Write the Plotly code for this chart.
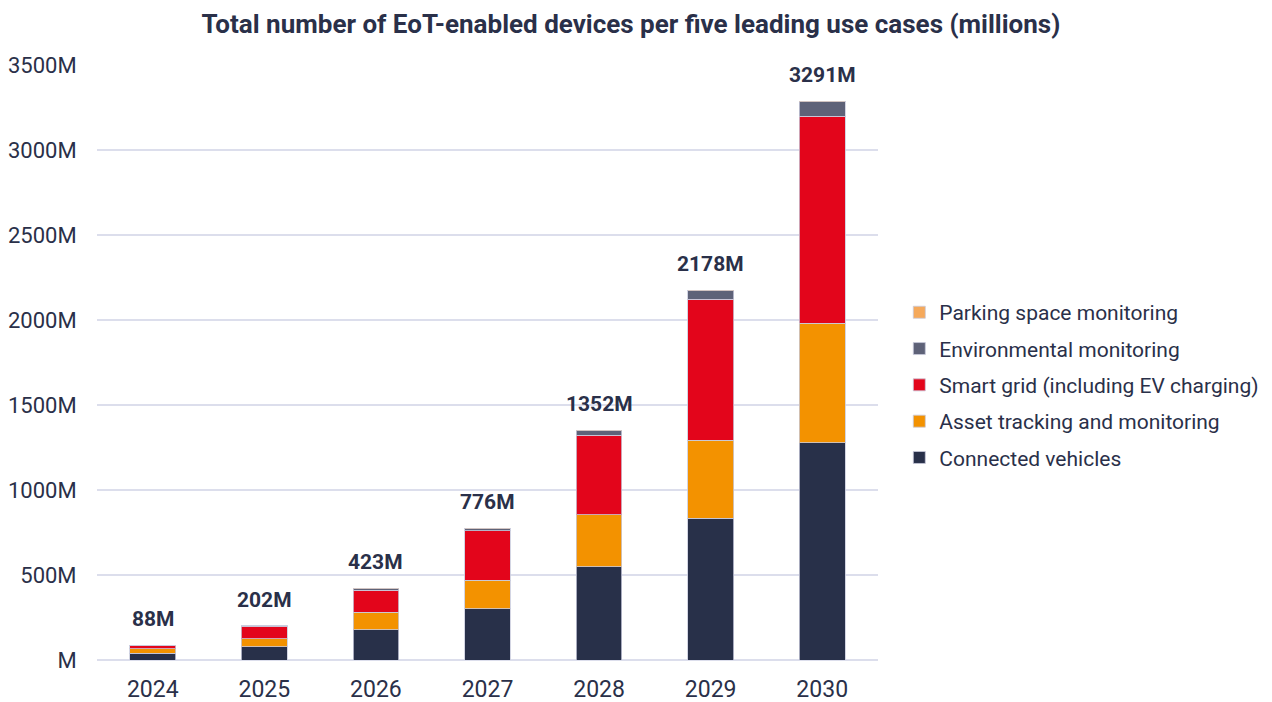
import plotly.graph_objects as go

years = ["2024", "2025", "2026", "2027", "2028", "2029", "2030"]
connected_vehicles = [41, 78, 178, 302, 549, 836, 1280]
asset_tracking = [24, 47, 104, 168, 305, 458, 702]
smart_grid = [21, 74, 130, 290, 470, 830, 1218]
environmental = [2, 3, 8, 14, 26, 51, 88]
parking = [0, 0, 3, 2, 2, 3, 3]
totals = [88, 202, 423, 776, 1352, 2178, 3291]
total_labels = [f"{t}M" for t in totals]

series = [
    ("Connected vehicles", connected_vehicles, "#283049", 5),
    ("Asset tracking and monitoring", asset_tracking, "#F39200", 4),
    ("Smart grid (including EV charging)", smart_grid, "#E3051B", 3),
    ("Environmental monitoring", environmental, "#5E6278", 2),
    ("Parking space monitoring", parking, "#F5A95B", 1),
]

tick_vals = [0, 500, 1000, 1500, 2000, 2500, 3000, 3500]
tick_text = ["M", "500M", "1000M", "1500M", "2000M", "2500M", "3000M", "3500M"]

FONT = "Roboto"
DARK = "#2a3049"
GRID = "#dcdeec"

fig = go.Figure()
for name, vals, color, rank in series:
    fig.add_trace(go.Bar(
        x=years, y=vals, name=name, legendgroup=name, legendrank=rank,
        marker=dict(color=color, line=dict(color="rgba(200,203,220,0.8)", width=1)),
    ))

for i, (t, lab) in enumerate(zip(totals, total_labels)):
    fig.add_annotation(x=i, y=t, text=f"<b>{lab}</b>", showarrow=False,
                       yanchor="bottom", yshift=12,
                       font=dict(family=FONT, size=21, color=DARK))

fig.update_layout(
    barmode="stack",
    bargap=0.59,
    width=1272, height=702,
    plot_bgcolor="white", paper_bgcolor="white",
    margin=dict(l=97, r=394, t=65, b=42),
    title=dict(text="<b>Total number of EoT-enabled devices per five leading use cases (millions)</b>",
               x=0.496, xanchor="center", y=0.966, yanchor="middle",
               font=dict(family=FONT, size=26, color=DARK)),
    font=dict(family=FONT, color=DARK),
    legend=dict(xref="container", x=0.707, xanchor="left",
                yref="paper", y=0.462, yanchor="middle",
                traceorder="grouped", tracegroupgap=6,
                font=dict(family=FONT, size=21, color=DARK),
                bgcolor="rgba(0,0,0,0)"),
    showlegend=True,
)
fig.update_yaxes(range=[0, 3503], tickvals=tick_vals, ticktext=tick_text,
                 showgrid=True, gridcolor=GRID, gridwidth=1.5,
                 zeroline=True, zerolinecolor=GRID, zerolinewidth=1.5,
                 showline=False, automargin=False,
                 ticks="outside", ticklen=15, tickcolor="rgba(0,0,0,0)",
                 tickfont=dict(family=FONT, size=22, color=DARK))
fig.update_xaxes(type="category", range=[-0.5, 6.5], showgrid=False, showline=False,
                 automargin=False,
                 ticks="outside", ticklen=8, tickcolor="rgba(0,0,0,0)",
                 tickfont=dict(family=FONT, size=23, color=DARK))

fig.write_html("out.html", config={"displayModeBar": False},
               post_script="document.body.style.margin='0';")
